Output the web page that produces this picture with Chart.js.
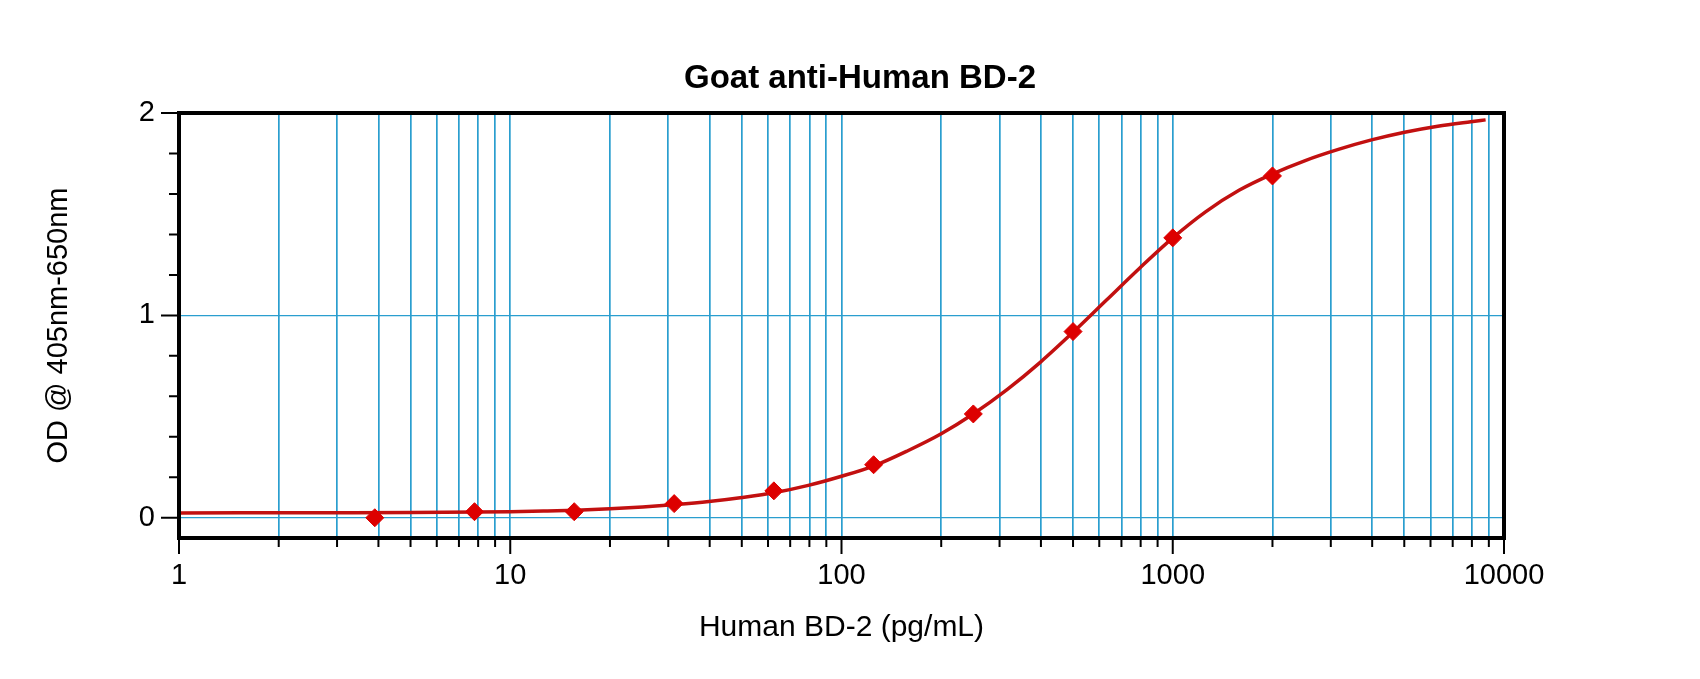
<!DOCTYPE html>
<html><head><meta charset="utf-8">
<script src="https://cdn.jsdelivr.net/npm/chart.js@4.4.0/dist/chart.umd.min.js"></script>
<style>html,body{margin:0;padding:0;background:#fff;}canvas{display:block;}</style>
</head><body>
<canvas id="c" width="1700" height="679"></canvas>
<script>
const chartTitle = 'Goat anti-Human BD-2';
const xTitle = 'Human BD-2 (pg/mL)';
const yTitle = 'OD @ 405nm-650nm';

// standards (measured points)
const stdConc = [3.9, 7.8, 15.6, 31.25, 62.5, 125, 250, 500, 1000, 2000];
const stdOD   = [0.00, 0.03, 0.03, 0.07, 0.133, 0.262, 0.513, 0.92, 1.383, 1.689];

// fitted curve
const fitConc = [1, 3.16, 5, 7.94, 10, 12.6, 15.8, 20, 25.1, 31.6, 39.8, 50.1, 63.1, 79.4, 100, 126, 158, 200, 251, 316, 398, 501, 631, 794, 1000, 1259, 1585, 1995, 2512, 3162, 3981, 5012, 6310, 7943, 8800];
const fitOD   = [0.024, 0.025, 0.026, 0.028, 0.030, 0.033, 0.037, 0.044, 0.053, 0.065, 0.080, 0.100, 0.125, 0.160, 0.205, 0.258, 0.330, 0.415, 0.515, 0.633, 0.768, 0.918, 1.076, 1.233, 1.383, 1.513, 1.618, 1.698, 1.765, 1.820, 1.867, 1.905, 1.935, 1.957, 1.966];

// tick values
const xMajorTicks = [1, 10, 100, 1000, 10000];
const xMinorTicks = [2,3,4,5,6,7,8,9, 20,30,40,50,60,70,80,90, 200,300,400,500,600,700,800,900, 2000,3000,4000,5000,6000,7000,8000,9000];
const yMajorTicks = [0, 1, 2];
const yMinorTicks = [0.2, 0.4, 0.6, 0.8, 1.2, 1.4, 1.6, 1.8];

const FONT = "'Liberation Sans', Arial, sans-serif";
const GRID = '#2a9ecf';
const isMajorY = v => yMajorTicks.some(m => Math.abs(m - v) < 1e-6);

const frame = {
  id: 'frame',
  afterDraw(chart) {
    const {ctx, chartArea: a, scales: {x, y}} = chart;
    ctx.save();
    ctx.strokeStyle = '#000';
    ctx.lineWidth = 2;
    ctx.beginPath();
    xMajorTicks.forEach(v => { const p = x.getPixelForValue(v); ctx.moveTo(p, a.bottom); ctx.lineTo(p, a.bottom + 16); });
    xMinorTicks.forEach(v => { const p = x.getPixelForValue(v); ctx.moveTo(p, a.bottom); ctx.lineTo(p, a.bottom + 9); });
    yMajorTicks.forEach(v => { const p = y.getPixelForValue(v); ctx.moveTo(a.left - 18, p); ctx.lineTo(a.left, p); });
    yMinorTicks.forEach(v => { const p = y.getPixelForValue(v); ctx.moveTo(a.left - 10, p); ctx.lineTo(a.left, p); });
    ctx.stroke();
    ctx.lineWidth = 4;
    ctx.strokeRect(a.left, a.top, a.right - a.left, a.bottom - a.top);
    ctx.fillStyle = '#000';
    ctx.font = 'bold 33px ' + FONT;
    ctx.textAlign = 'center';
    ctx.textBaseline = 'middle';
    ctx.fillText(chartTitle, 860, 79);
    ctx.restore();
  }
};

new Chart(document.getElementById('c'), {
  type: 'scatter',
  data: {
    datasets: [
      {
        label: 'Standards',
        data: stdConc.map((c, i) => ({x: c, y: stdOD[i]})),
        pointStyle: 'rectRot',
        pointRadius: 9,
        pointHoverRadius: 9,
        backgroundColor: '#dd0000',
        borderColor: '#dd0000',
        borderWidth: 1,
        showLine: false,
        order: 0
      },
      {
        label: 'Fit',
        data: fitConc.map((c, i) => ({x: c, y: fitOD[i]})),
        showLine: true,
        pointRadius: 0,
        borderColor: '#c21010',
        borderWidth: 3.5,
        cubicInterpolationMode: 'monotone',
        fill: false,
        order: 1
      }
    ]
  },
  options: {
    responsive: false,
    animation: false,
    devicePixelRatio: 1,
    layout: {padding: {left: 0, right: 196, top: 113, bottom: 0}},
    plugins: {legend: {display: false}, title: {display: false}, tooltip: {enabled: false}},
    scales: {
      x: {
        type: 'logarithmic',
        min: 1, max: 10000,
        afterBuildTicks: s => { s.ticks = [...xMajorTicks, ...xMinorTicks].sort((a, b) => a - b).map(v => ({value: v})); },
        afterFit: s => { s.height = 141; },
        grid: {drawTicks: false, color: GRID, lineWidth: 1.7},
        border: {display: false},
        ticks: {
          autoSkip: false, maxRotation: 0, minRotation: 0, padding: 21,
          color: '#000', font: {family: FONT, size: 29},
          callback: v => xMajorTicks.includes(v) ? String(v) : ''
        },
        title: {display: true, text: xTitle, color: '#000', font: {family: FONT, size: 30}, padding: {top: 0, bottom: 33}}
      },
      y: {
        type: 'linear',
        min: -0.1, max: 2,
        afterBuildTicks: s => { s.ticks = [...yMajorTicks, ...yMinorTicks].sort((a, b) => a - b).map(v => ({value: v})); },
        afterFit: s => { s.width = 179; },
        grid: {
          drawTicks: false, lineWidth: 1.3,
          color: c => (c.tick && isMajorY(c.tick.value) && c.tick.value < 2) ? GRID : 'rgba(0,0,0,0)'
        },
        border: {display: false},
        ticks: {
          autoSkip: false, padding: 24, color: '#000', font: {family: FONT, size: 29},
          callback: v => isMajorY(v) ? String(Math.round(v)) : ''
        },
        title: {display: true, text: yTitle, color: '#000', font: {family: FONT, size: 29}, padding: {top: 42, bottom: 0}}
      }
    }
  },
  plugins: [frame]
});
</script>
</body></html>
